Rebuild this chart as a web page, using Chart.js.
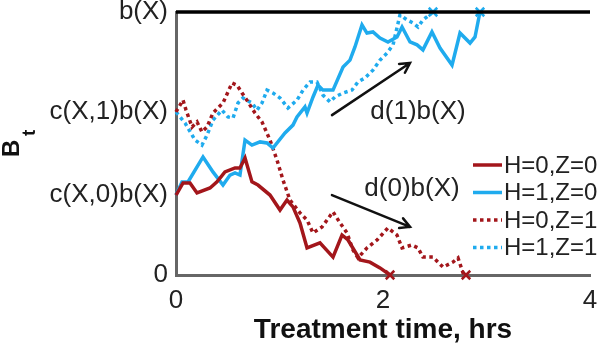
<!DOCTYPE html>
<html>
<head>
<meta charset="utf-8">
<script src="https://cdn.jsdelivr.net/npm/chart.js@4.4.0/dist/chart.umd.min.js"></script>
<style>
  html, body { margin: 0; padding: 0; background: #fff; }
</style>
</head>
<body>
<canvas id="myChart" width="600" height="348"></canvas>
<script>
// series labels, in legend order
var seriesLabels = ['H=0,Z=0', 'H=1,Z=0', 'H=0,Z=1', 'H=1,Z=1'];

// H=0,Z=0 : time (hrs) and level B_t (b(X) = 1)
var h0z0T = [0, 0.068, 0.135, 0.203, 0.329, 0.396, 0.473, 0.570, 0.618, 0.667, 0.734, 0.792, 0.908, 1.005, 1.072, 1.130, 1.198, 1.266, 1.391, 1.517, 1.604, 1.662, 1.778, 1.874, 1.971, 2.068];
var h0z0B = [0.304, 0.350, 0.350, 0.312, 0.331, 0.354, 0.392, 0.407, 0.407, 0.445, 0.354, 0.342, 0.304, 0.247, 0.285, 0.259, 0.198, 0.103, 0.122, 0.068, 0.152, 0.133, 0.057, 0.049, 0.027, 0];

// H=1,Z=0
var h1z0T = [0, 0.058, 0.116, 0.261, 0.357, 0.454, 0.522, 0.570, 0.618, 0.667, 0.734, 0.812, 0.879, 0.937, 1.053, 1.130, 1.169, 1.246, 1.266, 1.324, 1.372, 1.420, 1.517, 1.614, 1.681, 1.729, 1.797, 1.845, 1.903, 1.971, 2.048, 2.135, 2.184, 2.261, 2.329, 2.386, 2.473, 2.551, 2.667, 2.744, 2.841, 2.889, 2.937];
var h1z0B = [0.304, 0.354, 0.354, 0.449, 0.392, 0.342, 0.380, 0.388, 0.380, 0.513, 0.494, 0.506, 0.502, 0.483, 0.540, 0.570, 0.601, 0.639, 0.616, 0.677, 0.722, 0.703, 0.703, 0.791, 0.817, 0.867, 0.951, 0.920, 0.924, 0.901, 0.886, 0.905, 0.943, 0.886, 0.875, 0.856, 0.924, 0.863, 0.798, 0.920, 0.882, 0.905, 1];

// H=0,Z=1
var h0z1T = [0, 0.068, 0.097, 0.155, 0.203, 0.251, 0.300, 0.357, 0.454, 0.541, 0.589, 0.638, 0.696, 0.763, 0.831, 0.908, 0.976, 1.034, 1.101, 1.198, 1.266, 1.324, 1.411, 1.517, 1.585, 1.652, 1.710, 1.758, 1.845, 1.942, 2.048, 2.135, 2.184, 2.280, 2.338, 2.386, 2.483, 2.580, 2.676, 2.725, 2.773, 2.802];
var h0z1B = [0.620, 0.665, 0.627, 0.563, 0.582, 0.544, 0.563, 0.616, 0.654, 0.730, 0.722, 0.692, 0.658, 0.616, 0.582, 0.513, 0.437, 0.361, 0.285, 0.236, 0.209, 0.160, 0.183, 0.240, 0.198, 0.160, 0.095, 0.065, 0.103, 0.133, 0.179, 0.152, 0.103, 0.114, 0.103, 0.068, 0.068, 0.030, 0.049, 0.065, 0.008, 0];

// H=1,Z=1
var h1z1T = [0, 0.087, 0.184, 0.251, 0.300, 0.357, 0.444, 0.502, 0.551, 0.599, 0.647, 0.734, 0.783, 0.831, 0.879, 0.937, 1.005, 1.082, 1.169, 1.227, 1.295, 1.362, 1.420, 1.488, 1.536, 1.614, 1.700, 1.758, 1.826, 1.903, 1.971, 2.039, 2.097, 2.164, 2.232, 2.290, 2.338, 2.386, 2.483];
var h1z1B = [0.620, 0.578, 0.513, 0.494, 0.532, 0.589, 0.627, 0.601, 0.597, 0.654, 0.673, 0.654, 0.627, 0.654, 0.703, 0.692, 0.673, 0.635, 0.665, 0.703, 0.734, 0.734, 0.684, 0.658, 0.677, 0.692, 0.703, 0.734, 0.749, 0.779, 0.817, 0.844, 0.875, 0.989, 0.970, 0.958, 0.943, 0.970, 1];

// upper boundary b(X)
var boundT = [0, 4];
var boundB = [1, 1];

// axis ticks
var xTickValues = [0, 2, 4];
var yTickValues = [0, 0.304, 0.62, 1];
var yTickLabels = ['0', 'c(X,0)b(X)', 'c(X,1)b(X)', 'b(X)'];

// drift arrows (data units)
var arrowLabels = ['d(1)b(X)', 'd(0)b(X)'];
var arrowFromT = [1.507, 1.507];
var arrowFromB = [0.608, 0.304];
var arrowToT = [2.261, 2.261];
var arrowToB = [0.806, 0.183];
var arrowTextT = [2.338, 2.280];
var arrowTextB = [0.620, 0.327];

var RED = '#a3161b';
var BLUE = '#1fabee';
var FONT = "'Liberation Sans', Arial, sans-serif";

function pts(ts, bs) {
  return ts.map(function (t, i) { return {x: t, y: bs[i]}; });
}

function lastMarker(ctx) {
  return ctx.dataIndex === ctx.dataset.data.length - 1 ? 6 : 0;
}

function pathSet(label, ts, bs, color, dashed) {
  return {
    label: label,
    data: pts(ts, bs),
    borderColor: color,
    backgroundColor: color,
    borderWidth: 3.5,
    borderDash: dashed ? [3.5, 3.5] : [],
    borderCapStyle: 'butt',
    tension: 0,
    clip: false,
    pointStyle: 'crossRot',
    pointRadius: lastMarker,
    pointBorderWidth: 2.5,
    pointBorderColor: color,
    pointHoverRadius: 0
  };
}

var extras = {
  id: 'extras',
  afterDatasetsDraw: function (chart) {
    var ctx = chart.ctx, x = chart.scales.x, y = chart.scales.y;
    ctx.save();

    // arrows
    ctx.strokeStyle = '#111';
    ctx.fillStyle = '#222';
    ctx.lineWidth = 2.5;
    ctx.lineCap = 'round';
    for (var i = 0; i < arrowLabels.length; i++) {
      var x0 = x.getPixelForValue(arrowFromT[i]), y0 = y.getPixelForValue(arrowFromB[i]);
      var x1 = x.getPixelForValue(arrowToT[i]), y1 = y.getPixelForValue(arrowToB[i]);
      var a = Math.atan2(y1 - y0, x1 - x0), h = 11;
      ctx.beginPath();
      ctx.moveTo(x0, y0);
      ctx.lineTo(x1, y1);
      ctx.moveTo(x1 - h * Math.cos(a - 0.5), y1 - h * Math.sin(a - 0.5));
      ctx.lineTo(x1, y1);
      ctx.lineTo(x1 - h * Math.cos(a + 0.5), y1 - h * Math.sin(a + 0.5));
      ctx.stroke();
      ctx.font = '26px ' + FONT;
      ctx.textAlign = 'center';
      ctx.textBaseline = 'middle';
      ctx.fillText(arrowLabels[i], x.getPixelForValue(arrowTextT[i]), y.getPixelForValue(arrowTextB[i]));
    }

    // legend
    ctx.font = '24px ' + FONT;
    ctx.textAlign = 'left';
    ctx.textBaseline = 'middle';
    var row = 0;
    chart.data.datasets.forEach(function (ds) {
      if (!ds.label) return;
      var ly = 165 + row * 27.5;
      ctx.beginPath();
      ctx.strokeStyle = ds.borderColor;
      ctx.lineWidth = ds.borderWidth;
      ctx.lineCap = 'butt';
      ctx.setLineDash(ds.borderDash);
      ctx.moveTo(473, ly);
      ctx.lineTo(502, ly);
      ctx.stroke();
      ctx.setLineDash([]);
      ctx.fillStyle = '#222';
      ctx.fillText(ds.label, 504, ly + 1);
      row++;
    });

    // y axis title B_t
    ctx.fillStyle = '#111';
    ctx.translate(19, 157);
    ctx.rotate(-Math.PI / 2);
    ctx.textBaseline = 'alphabetic';
    ctx.font = 'bold 24px ' + FONT;
    ctx.fillText('B', 0, 0);
    ctx.font = 'bold 19px ' + FONT;
    ctx.fillText('t', 21, 16);
    ctx.restore();
  }
};

new Chart(document.getElementById('myChart'), {
  type: 'line',
  data: {
    datasets: [
      {
        label: '',
        data: pts(boundT, boundB),
        borderColor: '#000',
        borderWidth: 3.5,
        pointRadius: 0,
        clip: false
      },
      pathSet(seriesLabels[0], h0z0T, h0z0B, RED, false),
      pathSet(seriesLabels[1], h1z0T, h1z0B, BLUE, false),
      pathSet(seriesLabels[2], h0z1T, h0z1B, RED, true),
      pathSet(seriesLabels[3], h1z1T, h1z1B, BLUE, true)
    ]
  },
  options: {
    responsive: false,
    animation: false,
    layout: {padding: {top: 12, right: 10, left: 0, bottom: 0}},
    plugins: {
      legend: {display: false},
      tooltip: {enabled: false}
    },
    scales: {
      x: {
        type: 'linear',
        min: 0,
        max: 4,
        afterBuildTicks: function (s) { s.ticks = xTickValues.map(function (v) { return {value: v}; }); },
        afterFit: function (s) { s.height = 73; s.paddingLeft = 0; s.paddingRight = 0; },
        grid: {display: false, drawTicks: false},
        border: {display: true, color: '#666', width: 3},
        ticks: {
          padding: 10,
          color: '#222',
          maxRotation: 0,
          font: {family: FONT, size: 26}
        },
        title: {
          display: true,
          text: 'Treatment time, hrs',
          color: '#111',
          padding: {top: 0, bottom: 1},
          font: {family: FONT, size: 28, weight: 'bold'}
        }
      },
      y: {
        type: 'linear',
        min: 0,
        max: 1,
        afterBuildTicks: function (s) { s.ticks = yTickValues.map(function (v) { return {value: v}; }); },
        afterFit: function (s) { s.width = 176; s.paddingTop = 0; s.paddingBottom = 0; },
        grid: {display: false, drawTicks: false},
        border: {display: true, color: '#666', width: 3},
        ticks: {
          padding: 8,
          color: '#222',
          font: {family: FONT, size: 26},
          callback: function (v, i) { return yTickLabels[i]; }
        }
      }
    }
  },
  plugins: [extras]
});
</script>
</body>
</html>
